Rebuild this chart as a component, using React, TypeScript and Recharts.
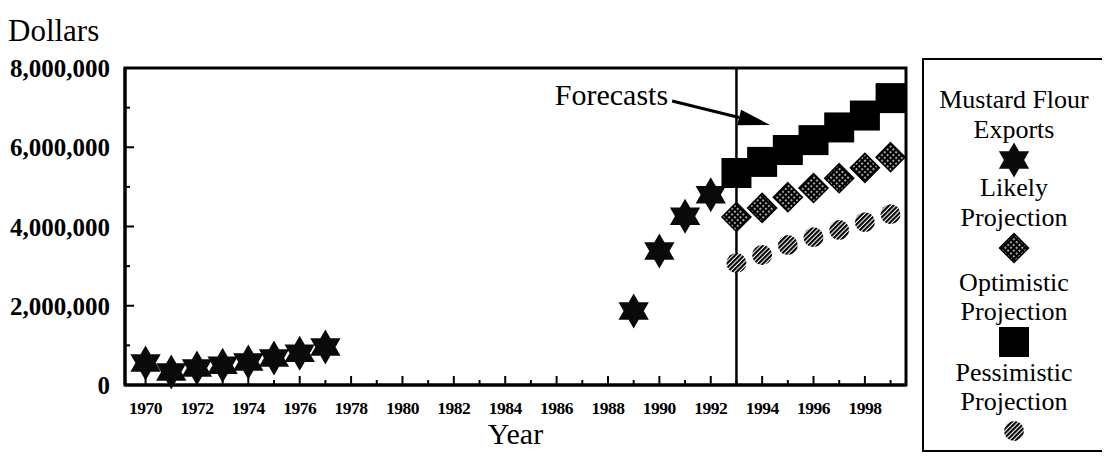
import React from 'react';
import { ScatterChart, Scatter, XAxis, YAxis, ReferenceLine, ReferenceArea, ReferenceDot } from 'recharts';

// values (dollars)
const exportYears = [1970, 1971, 1972, 1973, 1974, 1975, 1976, 1977, 1989, 1990, 1991, 1992];
const exportValues = [555000, 330000, 430000, 500000, 580000, 680000, 800000, 960000, 1870000, 3380000, 4260000, 4800000];
const projectionYears = [1993, 1994, 1995, 1996, 1997, 1998, 1999];
const likelyValues = [4240000, 4470000, 4740000, 4970000, 5220000, 5480000, 5750000];
const optimisticValues = [5350000, 5630000, 5930000, 6180000, 6500000, 6800000, 7240000];
const pessimisticValues = [3080000, 3280000, 3530000, 3730000, 3910000, 4110000, 4310000];

const yearTicks = [1970, 1971, 1972, 1973, 1974, 1975, 1976, 1977, 1978, 1979, 1980, 1981, 1982, 1983, 1984, 1985, 1986, 1987, 1988, 1989, 1990, 1991, 1992, 1993, 1994, 1995, 1996, 1997, 1998, 1999];
const dollarTicks = [0, 1000000, 2000000, 3000000, 4000000, 5000000, 6000000, 7000000, 8000000];

const toPoints = (years: number[], values: number[]) => years.map((year, i) => ({ year, value: values[i] }));
const exportData = toPoints(exportYears, exportValues);
const likelyData = toPoints(projectionYears, likelyValues);
const optimisticData = toPoints(projectionYears, optimisticValues);
const pessimisticData = toPoints(projectionYears, pessimisticValues);

const SERIF = '"Liberation Serif", "Times New Roman", serif';

const Patterns = () => (
  <defs>
    <pattern id="mesh" width="4" height="4" patternUnits="userSpaceOnUse" patternTransform="rotate(45)">
      <rect width="4" height="4" fill="#000" />
      <rect x="1.2" y="1.2" width="1.6" height="1.6" fill="#fff" />
    </pattern>
    <pattern id="hatch" width="3.2" height="3.2" patternUnits="userSpaceOnUse" patternTransform="rotate(45)">
      <rect width="3.2" height="3.2" fill="#fff" />
      <rect width="2.1" height="3.2" fill="#000" />
    </pattern>
  </defs>
);

const starPath = (cx: number, cy: number, R: number) => {
  const r = R / Math.sqrt(3);
  const pts: string[] = [];
  for (let k = 0; k < 12; k++) {
    const a = ((-90 + k * 30) * Math.PI) / 180;
    const rad = k % 2 === 0 ? R : r;
    pts.push(`${cx + rad * Math.cos(a)},${cy + rad * Math.sin(a)}`);
  }
  return `M${pts.join('L')}Z`;
};

const Star = ({ cx, cy }: any) => <path d={starPath(cx, cy, 17.5)} fill="#0a0a0a" />;
const Diamond = ({ cx, cy }: any) => (
  <g>
    <Patterns />
    <path d={`M${cx},${cy - 14.5}L${cx + 14.5},${cy}L${cx},${cy + 14.5}L${cx - 14.5},${cy}Z`} fill="url(#mesh)" stroke="#000" strokeWidth={1.5} />
  </g>
);
const Square = ({ cx, cy }: any) => <rect x={cx - 15} y={cy - 15} width={30} height={30} fill="#000" />;
const Ball = ({ cx, cy }: any) => (
  <g>
    <Patterns />
    <circle cx={cx} cy={cy} r={10} fill="url(#hatch)" />
  </g>
);

const YearTick = ({ x, y, payload }: any) => {
  const major = payload.value % 2 === 0;
  return (
    <g>
      <line x1={x} x2={x} y1={y} y2={y - (major ? 9 : 5)} stroke="#000" strokeWidth={2} />
      {major && (
        <text x={x} y={y + 29} textAnchor="middle" fontFamily={SERIF} fontSize={17.5} fontWeight="bold" fill="#000" letterSpacing={-0.5}>
          {payload.value}
        </text>
      )}
    </g>
  );
};

const DollarTick = ({ x, y, payload }: any) => {
  const major = payload.value % 2000000 === 0;
  return (
    <g>
      <line x1={x} x2={x + (major ? 9 : 5)} y1={y} y2={y} stroke="#000" strokeWidth={2} />
      {major && (
        <text x={x - 15} y={y + 9} textAnchor="end" fontFamily={SERIF} fontSize={25} fontWeight="bold" fill="#000">
          {payload.value.toLocaleString('en-US')}
        </text>
      )}
    </g>
  );
};

const ForecastNote = ({ cx, cy }: any) => (
  <g>
    <text x={cx - 102} y={cy - 20} textAnchor="end" fontFamily={SERIF} fontSize={30} fill="#000">
      Forecasts
    </text>
    <line x1={cx - 98} y1={cy - 24} x2={cx - 31} y2={cy - 7.6} stroke="#000" strokeWidth={3} />
    <path d={`M${cx},${cy}L${cx - 29},${cy - 15.4}L${cx - 33},${cy + 0.2}Z`} fill="#000" />
  </g>
);

const legendRows: { kind: 'text' | 'symbol'; y: number; text?: string; shape?: string }[] = [
  { kind: 'text', y: 42, text: 'Mustard Flour' },
  { kind: 'text', y: 72, text: 'Exports' },
  { kind: 'symbol', y: 102, shape: 'star' },
  { kind: 'text', y: 130, text: 'Likely' },
  { kind: 'text', y: 160, text: 'Projection' },
  { kind: 'symbol', y: 190, shape: 'diamond' },
  { kind: 'text', y: 225, text: 'Optimistic' },
  { kind: 'text', y: 254, text: 'Projection' },
  { kind: 'symbol', y: 284, shape: 'square' },
  { kind: 'text', y: 315, text: 'Pessimistic' },
  { kind: 'text', y: 344, text: 'Projection' },
  { kind: 'symbol', y: 373, shape: 'ball' },
];

const LegendBox = () => (
  <div
    style={{
      position: 'absolute',
      left: 914,
      top: 50,
      width: 184,
      height: 394,
      boxSizing: 'border-box',
      border: '2.5px solid #000',
      background: '#fff',
    }}
  >
    {legendRows.map((row, i) =>
      row.kind === 'text' ? (
        <div
          key={i}
          style={{
            position: 'absolute',
            left: 0,
            right: 0,
            top: row.y - 2.5 - 15,
            height: 30,
            lineHeight: '30px',
            textAlign: 'center',
            fontFamily: SERIF,
            fontSize: 26,
            color: '#000',
          }}
        >
          {row.text}
        </div>
      ) : (
        <svg key={i} width={40} height={40} style={{ position: 'absolute', left: 89.5 - 20, top: row.y - 2.5 - 20 }}>
          {row.shape === 'star' && <Star cx={20} cy={20} />}
          {row.shape === 'diamond' && <Diamond cx={20} cy={20} />}
          {row.shape === 'square' && <Square cx={20} cy={20} />}
          {row.shape === 'ball' && <Ball cx={20} cy={20} />}
        </svg>
      )
    )}
  </div>
);

export default function App() {
  return (
    <div style={{ position: 'relative', width: 1102, height: 452, background: '#fff' }}>
      <div style={{ position: 'absolute', left: 0, top: 8, fontFamily: SERIF, fontSize: 31, lineHeight: '30px', color: '#000' }}>
        Dollars
      </div>
      <ScatterChart width={1102} height={452} margin={{ top: 60, right: 204, bottom: 0, left: 0 }}>
        <XAxis
          type="number"
          dataKey="year"
          domain={[1969.2, 1999.6]}
          allowDataOverflow
          ticks={yearTicks}
          interval={0}
          tick={<YearTick />}
          tickSize={0}
          tickMargin={0}
          tickLine={false}
          height={75}
          axisLine={{ stroke: '#000', strokeWidth: 3 }}
          label={{ value: 'Year', position: 'insideBottom', offset: 16, fontFamily: SERIF, fontSize: 30, fill: '#000' }}
        />
        <YAxis
          type="number"
          dataKey="value"
          domain={[0, 8000000]}
          ticks={dollarTicks}
          interval={0}
          tick={<DollarTick />}
          tickSize={0}
          tickMargin={0}
          tickLine={false}
          width={117}
          axisLine={{ stroke: '#000', strokeWidth: 3 }}
        />
        <ReferenceArea x1={1969.2} x2={1999.6} y1={0} y2={8000000} fill="none" fillOpacity={0} stroke="#000" strokeWidth={3} />
        <ReferenceLine x={1993} stroke="#000" strokeWidth={2.5} />
        <ReferenceDot x={1994.31} y={6560000} r={0} shape={(p: any) => <ForecastNote cx={p.cx} cy={p.cy} />} />
        <Scatter name="Mustard Flour Exports" data={exportData} shape={(p: any) => <Star cx={p.cx} cy={p.cy} />} isAnimationActive={false} />
        <Scatter name="Optimistic Projection" data={optimisticData} shape={(p: any) => <Square cx={p.cx} cy={p.cy} />} isAnimationActive={false} />
        <Scatter name="Likely Projection" data={likelyData} shape={(p: any) => <Diamond cx={p.cx} cy={p.cy} />} isAnimationActive={false} />
        <Scatter name="Pessimistic Projection" data={pessimisticData} shape={(p: any) => <Ball cx={p.cx} cy={p.cy} />} isAnimationActive={false} />
      </ScatterChart>
      <LegendBox />
    </div>
  );
}
